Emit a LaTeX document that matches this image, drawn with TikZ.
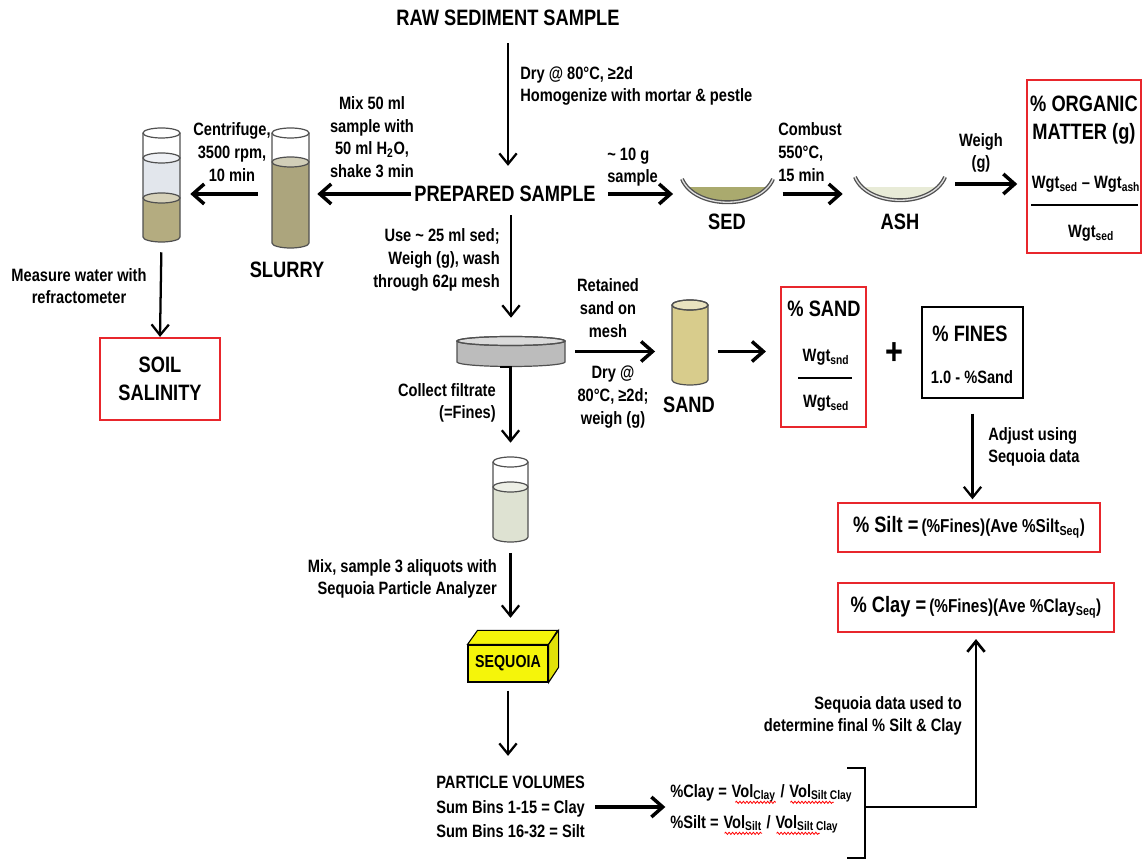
\documentclass[tikz,border=0pt]{standalone}
\usepackage{fontspec}
\setmainfont{Liberation Sans}[FakeStretch=0.82]
\usetikzlibrary{arrows.meta,decorations.pathmorphing}
\definecolor{boxred}{RGB}{232,38,44}
\definecolor{tubegray}{RGB}{80,80,80}
\definecolor{slurc}{RGB}{172,165,125}
\definecolor{sedimc}{RGB}{180,172,128}
\definecolor{waterc}{RGB}{226,230,236}
\definecolor{sandc}{RGB}{216,204,140}
\definecolor{finec}{RGB}{222,226,210}
\definecolor{meshc}{RGB}{188,188,188}
\definecolor{dishsed}{RGB}{170,170,110}
\definecolor{dishash}{RGB}{232,235,215}
\definecolor{seqy}{RGB}{245,245,10}
\newcommand\sbs[1]{\textsubscript{#1}}
\newcommand\fbig{\fontsize{16.7}{21}\selectfont\bfseries}
\newcommand\flab{\fontsize{13.4}{17}\selectfont\bfseries}
\newcommand\fpv{\fontsize{13.4}{18.4}\selectfont\bfseries}
\newcommand\fmid{\fontsize{14}{16}\selectfont\bfseries}
\newcommand\gnode[5]{\node[inner sep=0pt, minimum width={(#4-#2)*0.75pt}, minimum height={(#5-#3)*0.75pt}] (#1) at ({(#2+#4)/2},{(#3+#5)/2}) {};}
\newcommand\rnode[7]{\node[#6, inner sep=0pt, minimum width={(#4-#2)*0.75pt}, minimum height={(#5-#3)*0.75pt}] (#1) at ({(#2+#4)/2},{(#3+#5)/2}) {#7};}
\newcommand\liquid[6]{%
 \pgfmathsetmacro\tubr{(#2-#1)/2}\pgfmathsetmacro\tubc{(#1+#2)/2}%
 \fill[#6] (#1,#3) -- (#1,#4) arc[start angle=180,end angle=0,x radius=\tubr,y radius=#5] -- (#2,#3) -- cycle;
 \fill[#6!55!white] (\tubc,#3) ellipse[x radius=\tubr,y radius=#5];
 \draw[tubeline] (\tubc,#3) ellipse[x radius=\tubr,y radius=#5];}
\newcommand\tubeout[5]{%
 \pgfmathsetmacro\tubr{(#2-#1)/2}\pgfmathsetmacro\tubc{(#1+#2)/2}%
 \draw[tubeline] (#1,#3) -- (#1,#4) arc[start angle=180,end angle=0,x radius=\tubr,y radius=#5] -- (#2,#3);
 \draw[tubeline] (\tubc,#3) ellipse[x radius=\tubr,y radius=#5];}
\begin{document}
\begin{tikzpicture}[x=0.75pt,y=-0.75pt,
  big/.style={font=\fbig, inner sep=0pt, align=center},
  lab/.style={font=\flab, inner sep=0pt},
  redbox/.style={draw=boxred, line width=1.6pt},
  harr/.style={-{Straight Barb[length=8.5pt,width=15pt]}, line width=2.6pt},
  varr/.style={-{Straight Barb[length=8pt,width=13pt]}, line width=1.7pt},
  tubeline/.style={draw=tubegray, line width=0.9pt},
  dish/.style={draw=tubegray, line width=1pt, double=gray!25, double distance=1pt},
  squig/.style={draw=red, line width=0.6pt, decorate, decoration={snake, amplitude=0.8pt, segment length=2.6pt}}]
\useasboundingbox (0,0) rectangle (1143,862);

% ---------- shapes ----------
% slurry tube
\liquid{272}{309}{162}{243}{5}{slurc}
\tubeout{272}{309}{133}{243}{5}
\gnode{slurry}{272}{128}{309}{248}
% centrifuged tube
\liquid{143}{180}{158}{237}{5}{waterc}
\liquid{143}{180}{198}{237}{5}{sedimc}
\tubeout{143}{180}{133}{237}{5}
\gnode{cent}{143}{128}{180}{242}
% sed dish
\begin{scope}
\clip (682,179) .. controls (695,210) and (760,210) .. (773,179) -- cycle;
\fill[dishsed] (670,187) rectangle (780,215);
\end{scope}
\draw[dish] (682,179) .. controls (695,210) and (760,210) .. (773,179);
\gnode{sed}{682}{185}{773}{203}
% ash dish
\begin{scope}
\clip (855,177) .. controls (868,208) and (932,208) .. (945,177) -- cycle;
\fill[dishash] (850,187) rectangle (950,212);
\end{scope}
\draw[dish] (855,177) .. controls (868,208) and (932,208) .. (945,177);
\gnode{ash}{855}{168}{945}{200}
% mesh disk
\liquid{457}{565}{341}{362}{4.5}{meshc}
\tubeout{457}{565}{341}{362}{4.5}
\gnode{mesh}{457}{336}{565}{367}
% sand tube
\liquid{672}{708}{305}{380}{5}{sandc}
\tubeout{672}{708}{305}{380}{5}
\gnode{sandtube}{672}{300}{708}{385}
% fines tube
\liquid{493}{528}{487}{537}{5}{finec}
\tubeout{493}{528}{462}{537}{5}
\gnode{finestube}{493}{457}{528}{542}
% sequoia box
\rnode{seq}{468}{645}{548}{682}{draw, fill=seqy, line width=0.8pt, font=\fontsize{13}{15}\selectfont\bfseries}{SEQUOIA}
\draw[fill=seqy, line width=0.8pt] (seq.north west) -- ++(10,-14) -- ++(80,0) -- (seq.north east) -- cycle;
\draw[fill=seqy!92!black, line width=0.8pt] (seq.north east) -- ++(10,-14) -- ++(0,37) -- (seq.south east) -- cycle;

% ---------- texts ----------
\node[big] (raw) at (508,18) {RAW SEDIMENT SAMPLE};
\node[big] (prep) at (505,194) {PREPARED SAMPLE};
\node[lab, align=left, anchor=west] (ldry) at (520,86) {Dry @ 80°C, ≥2d\\Homogenize with mortar \& pestle};
\node[lab, align=center] (lmix) at (372,137) {Mix 50 ml\\sample with\\50 ml H\sbs{2}O,\\shake 3 min};
\node[lab, align=center] (lcen) at (232,152) {Centrifuge,\\3500 rpm,\\10 min};
\node[big] (slurrylab) at (287,270) {SLURRY};
\node[lab, align=center] (lmeas) at (79,286) {Measure water with\\refractometer};
\rnode{sal}{100}{338}{220}{420}{redbox, align=center, font=\fbig}{SOIL\\SALINITY}
\node[lab, align=left, anchor=west] (lten) at (607,167) {\textasciitilde\ 10 g\\sample};
\node[big] (sedlab) at (727,222) {SED};
\node[lab, align=left, anchor=west] (lcomb) at (778,152) {Combust\\550°C,\\15 min};
\node[big] (ashlab) at (900,222) {ASH};
\node[lab, align=center] (lwei) at (981,153) {Weigh\\(g)};
\rnode{org}{1027}{80}{1141}{253}{redbox}{}
\node[big] (org1) at (1084,104) {\% ORGANIC};
\node[big] (org2) at (1084,134) {MATTER (g)};
\node[lab] (org3) at (1086,184) {Wgt\sbs{sed} – Wgt\sbs{ash}};
\draw[line width=1.3pt] (1031,205) -- (1138,205);
\node[lab] (org4) at (1091,233) {Wgt\sbs{sed}};
\node[lab, align=right, anchor=east] (luse) at (500,260) {Use \textasciitilde\ 25 ml sed;\\Weigh (g), wash\\through 62µ mesh};
\node[lab, align=center] (lret) at (608,308) {Retained\\sand on\\mesh};
\node[lab, align=center] (ldrytwo) at (613,397) {Dry @\\80°C, ≥2d;\\weigh (g)};
\node[big] (sandlab) at (689,405) {SAND};
\rnode{sandbox}{781}{287}{866}{427}{redbox}{}
\node[big] (sb1) at (824,309) {\% SAND};
\node[lab] (sb2) at (826,357) {Wgt\sbs{snd}};
\draw[line width=1.3pt] (798,378) -- (852,378);
\node[lab] (sb3) at (826,403) {Wgt\sbs{sed}};
\node[font=\fontsize{28}{28}\selectfont\bfseries, inner sep=0pt] (plus) at (894,354) {+};
\rnode{fines}{922}{307}{1023}{398}{draw, line width=1.3pt}{}
\node[big] (fi1) at (970,334) {\% FINES};
\node[lab] (fi2) at (972,377) {1.0 - \%Sand};
\node[lab, align=left, anchor=west] (ladj) at (988,447) {Adjust using\\Sequoia data};
\rnode{silt}{838}{503}{1100}{552}{redbox}{{\fbig\% Silt =} {\fmid(\%Fines)(Ave \%Silt\sbs{Seq})}}
\rnode{clay}{838}{583}{1114}{632}{redbox}{{\fbig\% Clay =} {\fmid(\%Fines)(Ave \%Clay\sbs{Seq})}}
\node[lab, align=right, anchor=east] (lcoll) at (496,403) {Collect filtrate\\(=Fines)};
\node[lab, align=right, anchor=east] (lmixthree) at (497,579) {Mix, sample 3 aliquots with\\Sequoia Particle Analyzer};
\node[font=\fpv, inner sep=0pt, align=left, anchor=west] (pv) at (436,807) {PARTICLE VOLUMES\\Sum Bins 1-15 = Clay\\Sum Bins 16-32 = Silt};
\node[lab, align=right, anchor=east] (lseqd) at (962,716) {Sequoia data used to\\determine final \% Silt \& Clay};
% equations
\node[lab, anchor=base west] (ea) at (670,797) {\%Clay =};
\node[lab, anchor=base west] (eb) at ([xshift=3.2pt]ea.base east) {Vol\sbs{Clay}};
\node[lab, anchor=base west] (ec) at ([xshift=3.2pt]eb.base east) {/};
\node[lab, anchor=base west] (ed) at ([xshift=3.2pt]ec.base east) {Vol\sbs{Silt Clay}};
\node[lab, anchor=base west] (fa) at (670,828) {\%Silt =};
\node[lab, anchor=base west] (fb) at ([xshift=3.2pt]fa.base east) {Vol\sbs{Silt}};
\node[lab, anchor=base west] (fc) at ([xshift=3.2pt]fb.base east) {/};
\node[lab, anchor=base west] (fd) at ([xshift=3.2pt]fc.base east) {Vol\sbs{Silt Clay}};
\draw[squig] ([xshift=3pt,yshift=-4pt]eb.base west) -- ([yshift=-4pt]eb.base east);
\draw[squig] ([xshift=1pt,yshift=-4pt]ed.base west) -- ([xshift=-14pt,yshift=-4pt]ed.base east);
\draw[squig] ([xshift=1pt,yshift=-4pt]fb.base west) -- ([yshift=-4pt]fb.base east);
\draw[squig] ([xshift=1pt,yshift=-4pt]fd.base west) -- ([xshift=-14pt,yshift=-4pt]fd.base east);
% bracket
\coordinate (brk) at (865,807);
\draw[line width=2.2pt] (847,768) -- (865,768) -- (865,858) -- (847,858);

% ---------- connectors ----------
\draw[varr, shorten <=13pt, shorten >=15pt] (raw.south) -- (raw.south |- prep.north);
\draw[harr, shorten <=2pt, shorten >=6pt] (prep.west) -- (prep.west -| slurry.east);
\draw[harr, shorten <=10.5pt, shorten >=7.5pt] (slurry.west |- prep.west) -- (prep.west -| cent.east);
\draw[varr, shorten <=7.5pt] (cent.south) -- (sal.north);
\draw[harr, shorten <=9pt, shorten >=6.5pt] (prep.east) -- (prep.east -| sed.west);
\draw[harr, shorten <=7pt, shorten >=9pt] (sed.east) -- (sed.east -| ash.west);
\draw[harr, shorten <=7.5pt, shorten >=6.5pt] (ash.east) -- (ash.east -| org.west);
\draw[varr, shorten <=10pt, shorten >=13.5pt] (mesh.north |- prep.south) -- (mesh.north);
\draw[harr, shorten <=7.5pt, shorten >=12.5pt] (mesh.east) -- (mesh.east -| sandtube.west);
\draw[harr, shorten <=7pt, shorten >=10.5pt] (sandtube.east |- mesh.east) -- (mesh.east -| sandbox.west);
\draw[varr, shorten <=11pt, shorten >=2pt] (fines.south) -- (fines.south |- silt.north);
\draw[varr, shorten <=8pt, shorten >=10.5pt] (mesh.south) -- (mesh.south -| finestube.north) -- (finestube.north);
\draw[varr, shorten <=8pt, shorten >=20pt] (finestube.south) -- (finestube.south |- seq.north);
\draw[varr, shorten <=6pt, shorten >=15pt] (seq.south) -- (seq.south |- pv.north);
\draw[harr, shorten <=7.5pt, shorten >=3.5pt] (pv.east) -- (pv.east -| ea.west);
\draw[varr, line width=2pt, shorten >=4.5pt] (brk) -| (clay.south);
\end{tikzpicture}
\end{document}
